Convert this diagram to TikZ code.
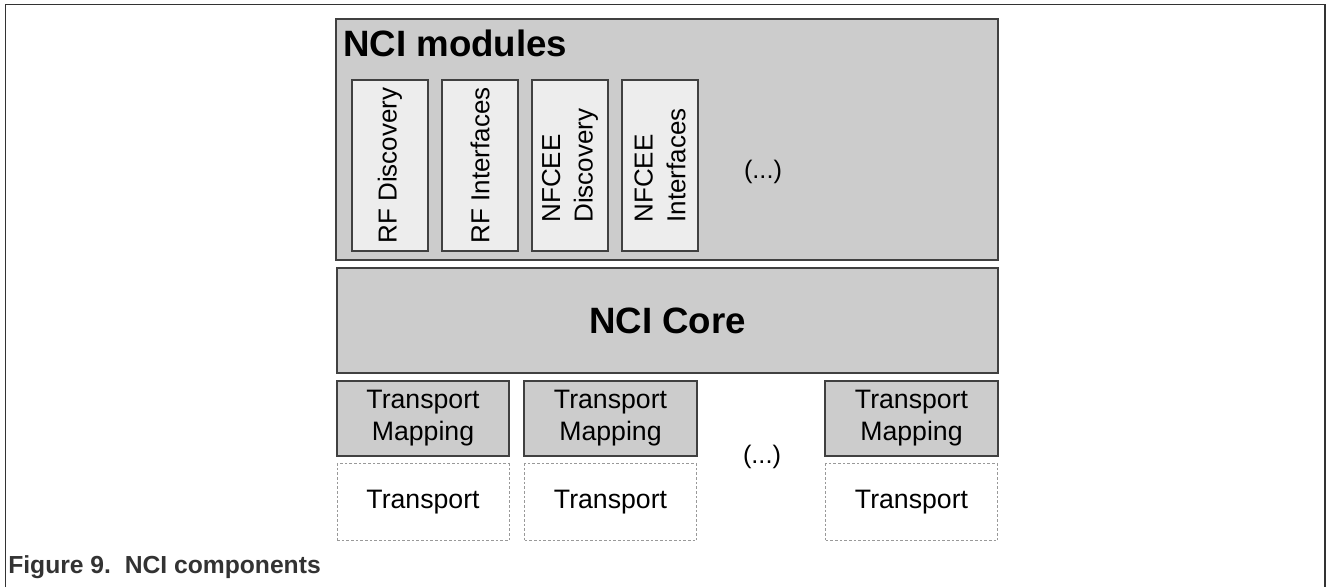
\documentclass[tikz,border=0pt]{standalone}
\usepackage{fontspec}
\setmainfont{Liberation Sans}
\usetikzlibrary{positioning}

\begin{document}
\begin{tikzpicture}[
  x=0.75pt, y=-0.75pt,
  outerframe/.style={draw=black!80, line width=1.3pt},
  modbox/.style={rectangle, draw=black!75, fill=black!20, line width=1.2pt, inner sep=0pt},
  subbox/.style={rectangle, draw=black!75, fill=black!7, line width=1pt, minimum width=128.25pt, minimum height=57pt, rotate=90, font=\fontsize{19.5}{24.5}\selectfont, align=left, inner sep=0pt},
  mapbox/.style={rectangle, draw=black!75, fill=black!20, line width=1.2pt, minimum width=129.4pt, minimum height=56.25pt, font=\fontsize{20}{24}\selectfont, align=center, inner sep=0pt},
  transbox/.style={rectangle, draw=black!40, dash pattern=on 2pt off 1.5pt, line width=0.6pt, minimum width=129pt, minimum height=57.75pt, font=\fontsize{20}{24}\selectfont, inner sep=0pt},
  titlestyle/.style={font=\fontsize{27.5}{32}\selectfont\bfseries},
  dotsstyle/.style={font=\fontsize{19}{24}\selectfont},
  captionstyle/.style={font=\fontsize{18.5}{22}\selectfont\bfseries, text=black!80}
]
\useasboundingbox (0,0) rectangle (1326,587);

% Figure frame (open at the bottom)
\draw[outerframe] (5.5,587) -- (5.5,4.5) -- (1325,4.5) -- (1325,587);

% NCI modules block
\node[modbox, minimum width=496.5pt, minimum height=180.75pt] (modules) at (667,139.5) {};
\node[titlestyle, anchor=base west, inner sep=0pt] (modtitle) at (343,56) {NCI modules};

% Modules (rotated labels)
\foreach \name/\txt [count=\i from 0] in {rfdisc/{RF Discovery}, rfint/{RF Interfaces}, eedisc/{NFCEE\\Discovery}, eeint/{NFCEE\\Interfaces}}
  \node[subbox] (\name) at (390+90*\i,165.5) {\txt};
\node[dotsstyle] (moddots) at (763,172) {(...)};

% NCI Core
\node[modbox, titlestyle, minimum width=495.75pt, minimum height=78.75pt] (core) at (667.5,320.5) {NCI Core};

% Transport mappings and transports
\foreach \xc [count=\i] in {423,610.5,911.5} {
  \node[mapbox] (map\i) at (\xc,418.5) {Transport\\Mapping};
  \node[transbox, below=5pt of map\i] (trans\i) {Transport};
}
\node[dotsstyle] (mapdots) at (762,457) {(...)};

% Caption
\node[captionstyle, anchor=base west, inner sep=0pt] (caption) at (8,573) {Figure 9.\ \ NCI components};

\end{tikzpicture}
\end{document}
